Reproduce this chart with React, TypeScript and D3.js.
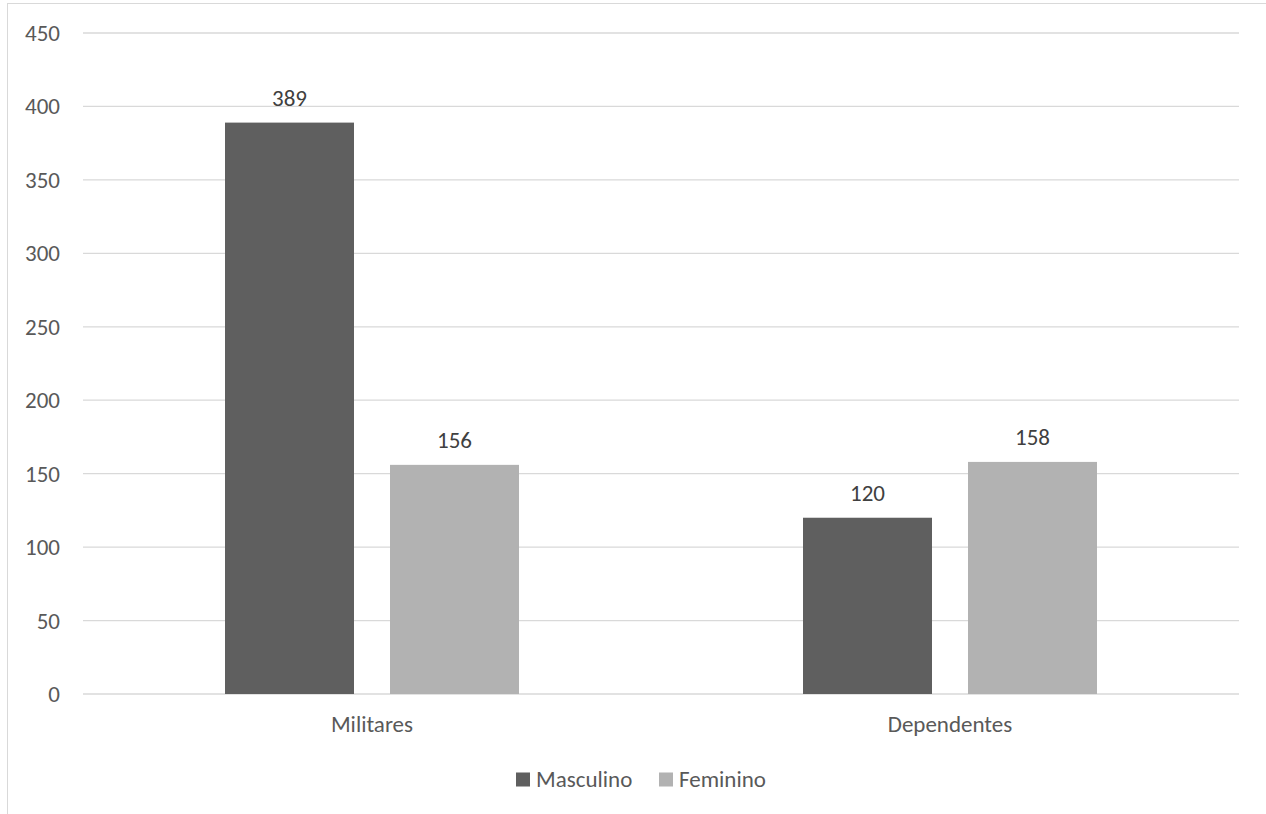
import React from "react";
import * as d3 from "d3";

const categories = ["Militares", "Dependentes"];
const seriesNames = ["Masculino", "Feminino"];
const masculino = [389, 120];
const feminino = [156, 158];
const yTicks = [0, 50, 100, 150, 200, 250, 300, 350, 400, 450];
const colors = ["#5f5f5f", "#b2b2b2"];

const W = 1266;
const H = 814;
const FONT = "Carlito, Calibri, Lato, 'Open Sans', sans-serif";
const FS = 23;

export default function App() {
  const left = 83, right = 1239, top = 33, bottom = 694;
  const x = d3.scaleBand().domain(categories).range([left, right]);
  const y = d3.scaleLinear().domain([0, 450]).range([bottom, top]);
  const barW = 129;
  const gap = 36;
  const values = [masculino, feminino];

  return (
    <svg width={W} height={H} style={{ position: "absolute", left: 0, top: 0, background: "#fff" }}>
      <rect x={7.5} y={3.5} width={W + 10} height={H + 10} fill="#fff" stroke="#d9d9d9" strokeWidth={1} />
      {yTicks.map((t) => (
        <g key={t}>
          <line x1={left} x2={right} y1={y(t)} y2={y(t)} stroke="#d9d9d9" strokeWidth={1.3} />
          <text x={60} y={y(t)} dy="0.35em" textAnchor="end" fontFamily={FONT} fontSize={FS} fill="#595959">
            {t}
          </text>
        </g>
      ))}
      {categories.map((c, ci) => {
        const cx = (x(c) as number) + x.bandwidth() / 2;
        const start = cx - (2 * barW + gap) / 2;
        return (
          <g key={c}>
            {values.map((vals, si) => {
              const bx = start + si * (barW + gap);
              const v = vals[ci];
              return (
                <g key={si}>
                  <rect x={bx} y={y(v)} width={barW} height={y(0) - y(v)} fill={colors[si]} />
                  <text x={bx + barW / 2} y={y(v) - 17} textAnchor="middle" fontFamily={FONT} fontSize={FS} fill="#404040">
                    {v}
                  </text>
                </g>
              );
            })}
            <text x={cx} y={732} textAnchor="middle" fontFamily={FONT} fontSize={FS} fill="#595959">
              {c}
            </text>
          </g>
        );
      })}
      {seriesNames.map((s, i) => {
        const lx = [516, 659][i];
        return (
          <g key={s}>
            <rect x={lx} y={772.5} width={14} height={14} fill={colors[i]} />
            <text x={lx + 20} y={787} fontFamily={FONT} fontSize={FS} fill="#595959">
              {s}
            </text>
          </g>
        );
      })}
    </svg>
  );
}
